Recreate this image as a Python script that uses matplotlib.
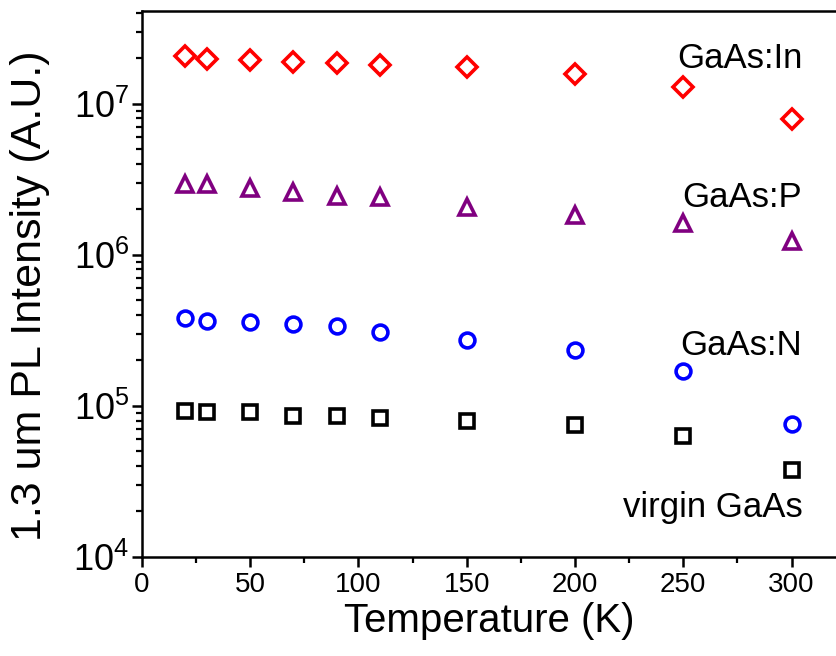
import matplotlib
matplotlib.use('Agg')
import matplotlib.pyplot as plt
from matplotlib.ticker import LogLocator, MultipleLocator

plt.rcParams['font.family'] = ['Liberation Sans', 'DejaVu Sans']
plt.rcParams['mathtext.default'] = 'regular'

temps = [20, 30, 50, 70, 90, 110, 150, 200, 250, 300]
gaas_in = [2.08e7, 1.99e7, 1.94e7, 1.90e7, 1.85e7, 1.80e7, 1.74e7, 1.57e7, 1.29e7, 7.9e6]
gaas_p = [2.95e6, 2.95e6, 2.78e6, 2.62e6, 2.46e6, 2.40e6, 2.06e6, 1.83e6, 1.63e6, 1.23e6]
gaas_n = [3.83e5, 3.66e5, 3.60e5, 3.50e5, 3.36e5, 3.10e5, 2.74e5, 2.35e5, 1.70e5, 7.6e4]
virgin = [9.3e4, 9.1e4, 9.1e4, 8.6e4, 8.6e4, 8.3e4, 7.9e4, 7.5e4, 6.3e4, 3.77e4]

labels = ['GaAs:In', 'GaAs:P', 'GaAs:N', 'virgin GaAs']
label_y = [1.73e7, 2.08e6, 2.18e5, 1.84e4]

fig = plt.figure(figsize=(8.37, 6.56), dpi=100)
ax = fig.add_axes([0.1694, 0.151, 0.8306, 0.832])

ms = 11
mew = 2.6
ax.plot(temps, gaas_in, 'D', ms=ms * 0.97, mfc='none', mec='#ff0000', mew=mew, ls='none')
ax.plot(temps, gaas_p, '^', ms=ms * 1.08, mfc='none', mec='#800080', mew=mew, ls='none')
ax.plot(temps, gaas_n, 'o', ms=ms * 0.97, mfc='none', mec='#0000ff', mew=mew, ls='none')
ax.plot(temps, virgin, 's', ms=ms * 0.9, mfc='none', mec='black', mew=mew, ls='none')

for lab, y in zip(labels, label_y):
    ax.text(305, y, lab, ha='right', va='baseline', fontsize=25)

ax.set_yscale('log')
ax.set_xlim(0, 321)
ax.set_ylim(1e4, 4.1e7)

ax.xaxis.set_major_locator(MultipleLocator(50))
ax.xaxis.set_minor_locator(MultipleLocator(25))
ax.yaxis.set_major_locator(LogLocator(base=10, numticks=10))
ax.yaxis.set_minor_locator(LogLocator(base=10, subs=range(2, 10), numticks=10))

ax.spines['right'].set_visible(False)
for s in ['left', 'bottom', 'top']:
    ax.spines[s].set_linewidth(1.8)

ax.tick_params(which='major', direction='out', length=7, width=1.8)
ax.tick_params(which='minor', direction='out', length=4, width=1.6)
ax.tick_params(axis='y', labelsize=26, pad=2)
ax.tick_params(axis='x', labelsize=20, pad=4)

ax.set_xlabel('Temperature (K)', fontsize=29, labelpad=3)
ax.set_ylabel('1.3 um PL Intensity (A.U.)', fontsize=31)
ax.yaxis.set_label_coords(-0.132, 0.478)

fig.savefig('out.png', dpi=100)
